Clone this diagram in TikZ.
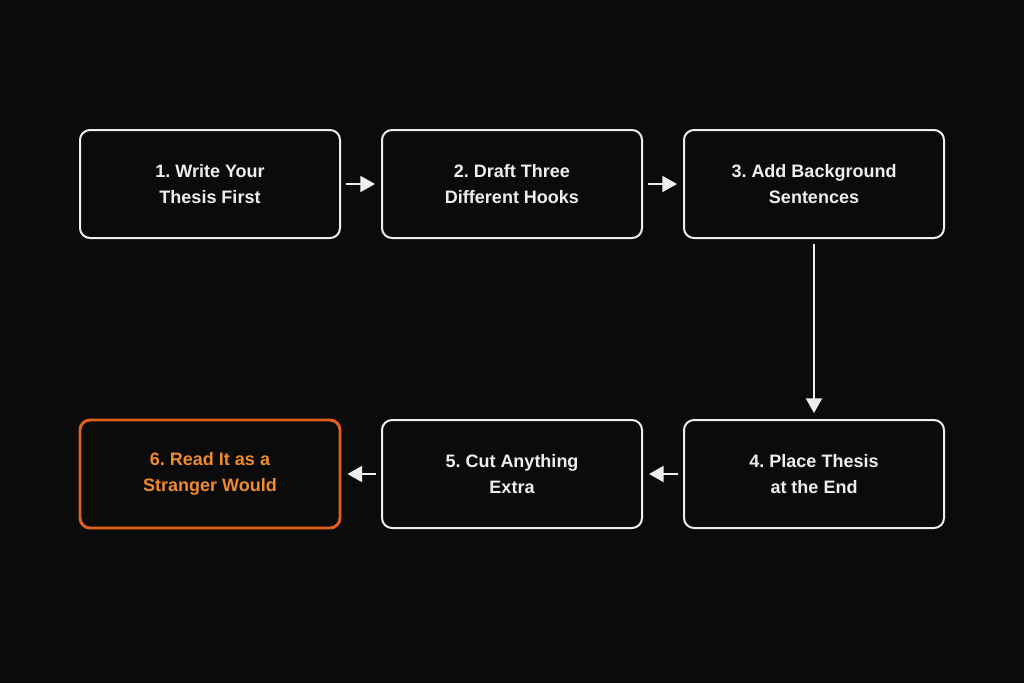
\documentclass[tikz,border=0pt]{standalone}
\usepackage{fontspec}
\setmainfont{Liberation Sans}
\usetikzlibrary{arrows.meta}
\definecolor{bg}{HTML}{0B0B0B}
\definecolor{fg}{HTML}{EEEEEE}
\definecolor{org}{HTML}{E2601E}
\definecolor{orgt}{HTML}{F08A2E}
\frenchspacing
\begin{document}
\begin{tikzpicture}[x=0.75pt,y=-0.75pt,
  box/.style={draw=fg,line width=1.5pt,rounded corners=7.5pt,minimum width=195pt,minimum height=81pt,align=center,text=fg,font=\bfseries\fontsize{13.5}{20}\selectfont},
  hl/.style={draw=org,text=orgt,line width=2.2pt},
  arr/.style={draw=fg,line width=1.5pt,-{Triangle[length=11pt,width=12pt]}}]
\fill[bg] (0,0) rectangle (1024,683);
\node[box] (b1) at (210,184) {1. Write Your\\Thesis First};
\node[box] (b2) at (512,184) {2. Draft Three\\Different Hooks};
\node[box] (b3) at (814,184) {3. Add Background\\Sentences};
\node[box] (b4) at (814,474) {4. Place Thesis\\at the End};
\node[box] (b5) at (512,474) {5. Cut Anything\\Extra};
\node[box,hl] (b6) at (210,474) {6. Read It as a\\Stranger Would};
\draw[arr] ([xshift=3.75pt]b1.east) -- ([xshift=-4.5pt]b2.west);
\draw[arr] ([xshift=3.75pt]b2.east) -- ([xshift=-4.5pt]b3.west);
\draw[arr] ([yshift=-3.75pt]b3.south) -- ([yshift=4.5pt]b4.north);
\draw[arr] ([xshift=-3.75pt]b4.west) -- ([xshift=4.5pt]b5.east);
\draw[arr] ([xshift=-3.75pt]b5.west) -- ([xshift=4.5pt]b6.east);
\end{tikzpicture}
\end{document}
